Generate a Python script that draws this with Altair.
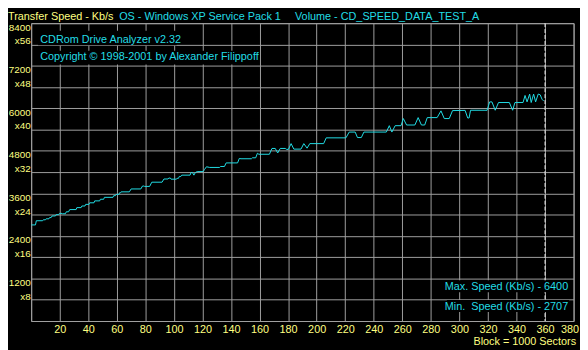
import altair as alt
import pandas as pd

# Block position (x 1000 sectors) and transfer speed (Kb/s)
block = [0, 3, 3.6, 8, 8.5, 10, 10.5, 12.4, 12.9, 14, 14.6, 17, 17.5, 19.3, 19.8, 21.6, 22, 24,
         24.6, 26.2, 27, 31.5, 32, 35, 35.5, 37.7, 38.2, 40.5, 41, 44, 44.5, 48, 48.5, 50.8,
         51.3, 57.3, 57.8, 59, 59.5, 61.4, 61.9, 62.6, 63, 68.8, 70, 76.8, 78, 79, 79.5, 83,
         84.5, 91.7, 93, 95.9, 96.4, 97.5, 98, 101.6, 102.2, 103.2, 103.8, 104.9, 105.5, 111.3,
         112, 113, 114, 115, 116.3, 120.5, 121.5, 122.8, 125.1, 132, 132.6, 135.4, 136.6, 144.6,
         145.8, 147, 154.3, 155, 157.3, 158.5, 159.5, 166.9, 168.7, 171, 172.7, 174.5, 178, 179,
         180.2, 182.1, 184, 189, 191, 193.3, 195.2, 204.9, 206.7, 220.5, 222.8, 227, 228.6, 231.3,
         233.1, 248.8, 250.9, 252.7, 255, 259.1, 260.7, 263, 268.8, 271.1, 273.4, 275.7, 277.5,
         284.4, 287.1, 289.4, 292.9, 295.2, 304, 305.8, 306.8, 307.8, 319.4, 321.2, 322.8, 325.1,
         327.4, 335, 337.3, 338.9, 344.6, 346, 347.4, 349.2, 350.3, 352, 353.4, 355.2, 356.6,
         357.9, 359]
speed = [2710, 2710, 2828, 2828, 2855, 2855, 2882, 2882, 2917, 2917, 2963, 2963, 3000, 3000,
         3035, 3035, 3025, 3025, 3080, 3080, 3143, 3143, 3198, 3198, 3244, 3244, 3290, 3290,
         3334, 3334, 3388, 3388, 3434, 3434, 3488, 3488, 3535, 3535, 3570, 3570, 3616, 3616,
         3643, 3643, 3725, 3725, 3807, 3807, 3796, 3796, 3915, 3915, 4005, 4005, 4032, 4032,
         4000, 4000, 4024, 4024, 4078, 4078, 4114, 4114, 4187, 4187, 4114, 4187, 4214, 4214,
         4277, 4350, 4331, 4331, 4358, 4358, 4459, 4459, 4584, 4576, 4576, 4603, 4603, 4731,
         4703, 4703, 4867, 4867, 4739, 4867, 4867, 4840, 4840, 5003, 4848, 4848, 5003, 4875,
         5003, 5003, 5166, 5166, 5329, 5329, 5174, 5174, 5329, 5329, 5509, 5329, 5509, 5509,
         5710, 5528, 5528, 5737, 5528, 5528, 5737, 5737, 5927, 5710, 5710, 5935, 5940, 5727,
         5727, 5944, 5944, 6180, 6180, 5944, 6162, 6162, 5944, 6162, 6162, 6362, 6180, 6400,
         6162, 6400, 6180, 6400, 6380, 6254, 6208]

x_ticks = list(range(0, 381, 20))
y_ticks = list(range(0, 8401, 600))
end_block = [360]

YELLOW = "#ffff80"
CYAN = "#22dde6"
GRID = "#a0a0a0"
FONT = "Liberation Sans"

W, H = 550, 302

df = pd.DataFrame({"block": block, "speed": speed})

x_scale = alt.Scale(domain=[0, 380], nice=False, zero=False)
x_axis = alt.Axis(values=x_ticks, title=None, grid=True, gridColor=GRID,
                  gridOpacity=1, ticks=False, domain=False,
                  labelExpr="datum.value == 0 ? '' : datum.label",
                  labelFlush=True, labelFlushOffset=5,
                  labelColor=YELLOW, labelFont=FONT,
                  labelFontSize=11, labelPadding=3, labelOverlap=False)

line = alt.Chart(df).mark_line(color=CYAN, strokeWidth=1, clip=True).encode(
    x=alt.X("block:Q", scale=x_scale, axis=x_axis),
    y=alt.Y("speed:Q",
            scale=alt.Scale(domain=[0, 8400], nice=False, zero=True),
            axis=alt.Axis(values=y_ticks, title=None, grid=True, gridColor=GRID,
                          gridOpacity=1, ticks=False, domain=False, format="d",
                          labelExpr="datum.value > 0 && datum.value % 1200 == 0 ? [datum.label, 'x' + round(datum.value / 150)] : ''",
                          labelColor=YELLOW, labelFont=FONT, labelFontSize=10,
                          labelBaseline="top", labelOffset=-1, labelLineHeight=14,
                          labelPadding=1, labelOverlap=False)),
)

end_rule = alt.Chart(pd.DataFrame({"block": end_block})).mark_rule(
    color="#e8e8e8", strokeDash=[4, 2], strokeWidth=1
).encode(x=alt.X("block:Q", scale=x_scale, axis=x_axis))

one = pd.DataFrame({"k": [0]})


def box(x1, x2, y1, y2):
    return alt.Chart(one).mark_rect(color="black").encode(
        x=alt.value(x1), x2=alt.value(x2), y=alt.value(y1), y2=alt.value(y2))


def label(s, px, py, color, align="left"):
    return alt.Chart(one).mark_text(
        text=s, color=color, font=FONT, fontSize=11, align=align,
        baseline="alphabetic").encode(x=alt.value(px), y=alt.value(py))


layers = [
    line,
    end_rule,
    box(7, 147.5, 7.8, 22.5),
    box(7, 223.5, 28, 42),
    box(422.5, 545.5, 260.7, 272.9),
    box(421.5, 545.5, 280.7, 292.9),
    label("Transfer Speed - Kb/s", -23.5, -3, YELLOW),
    label("OS - Windows XP Service Pack 1", 89.2, -3, CYAN),
    label("Volume - CD_SPEED_DATA_TEST_A", 267.5, -3, CYAN),
    label("CDRom Drive Analyzer v2.32", 9.2, 20.5, CYAN),
    label("Copyright \u00a9 1998-2001 by Alexander Filippoff", 9.2, 37.1, CYAN),
    label("Max. Speed (Kb/s) - 6400", 544.5, 270.4, CYAN, "right"),
    label("Min.\u00a0 Speed (Kb/s) - 2707", 544.5, 290.4, CYAN, "right"),
    label("Block = 1000 Sectors", 552.5, 326, YELLOW, "right"),
]

chart = alt.layer(*layers).properties(
    width=W, height=H,
    autosize=alt.AutoSizeParams(type="none"),
    padding={"left": 23.5, "top": 13, "right": 6.5, "bottom": 27},
    background="black",
).configure_view(stroke=GRID, strokeWidth=1).configure_axis(labelOverlap=False)

chart.save("out.html", embed_options={"renderer": "svg", "actions": False})
